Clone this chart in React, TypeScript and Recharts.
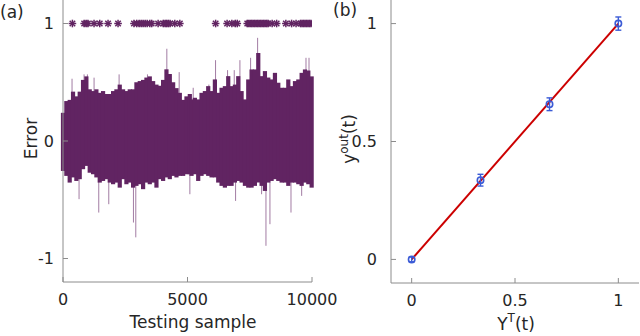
import React from 'react';
import { ComposedChart, Scatter, ErrorBar, XAxis, YAxis, Line } from 'recharts';

// ---------- Panel (a) data ----------
const sampleX = [
  0, 135, 269, 403, 537, 671, 805, 939, 1073, 1207, 1341, 1475, 1609, 1743, 1877, 2011, 2145, 2279, 2413, 2547,
  2681, 2815, 2949, 3083, 3217, 3351, 3485, 3619, 3753, 3887, 4021, 4155, 4289, 4423, 4557, 4691, 4825, 4959, 5093,
  5162, 5296, 5430, 5564, 5698, 5832, 5966, 6100, 6234, 6368, 6502, 6636, 6770, 6904, 7038, 7172, 7306, 7440, 7574,
  7708, 7842, 7976, 8110, 8244, 8378, 8512, 8646, 8780, 8914, 9048, 9182, 9316, 9450, 9584, 9718, 9852, 9986,
];
const errorHigh = [
  0.24, 0.34, 0.35, 0.42, 0.38, 0.42, 0.52, 0.55, 0.44, 0.425, 0.44, 0.41, 0.425, 0.40, 0.40, 0.425, 0.44, 0.48, 0.44, 0.425,
  0.44, 0.44, 0.50, 0.51, 0.52, 0.54, 0.55, 0.51, 0.48, 0.47, 0.52, 0.61, 0.57, 0.50, 0.45, 0.41, 0.35, 0.38, 0.40,
  0.354, 0.368, 0.354, 0.41, 0.425, 0.467, 0.425, 0.524, 0.41, 0.453, 0.467, 0.552, 0.467, 0.48, 0.552, 0.425, 0.354, 0.524, 0.609,
  0.609, 0.75, 0.552, 0.595, 0.54, 0.524, 0.58, 0.496, 0.453, 0.453, 0.524, 0.467, 0.51, 0.524, 0.58, 0.609, 0.60, 0.55,
];
const errorLow = [
  -0.255, -0.297, -0.354, -0.31, -0.34, -0.325, -0.24, -0.212, -0.27, -0.283, -0.31, -0.354, -0.34, -0.325, -0.354, -0.368, -0.354, -0.397, -0.325, -0.368,
  -0.354, -0.397, -0.382, -0.368, -0.41, -0.354, -0.368, -0.354, -0.397, -0.325, -0.34, -0.31, -0.325, -0.297, -0.31, -0.297, -0.297, -0.283, -0.283,
  -0.297, -0.283, -0.34, -0.297, -0.283, -0.297, -0.31, -0.31, -0.354, -0.382, -0.397, -0.382, -0.382, -0.354, -0.34, -0.354, -0.382, -0.397, -0.397,
  -0.382, -0.354, -0.382, -0.425, -0.354, -0.34, -0.325, -0.34, -0.354, -0.354, -0.382, -0.354, -0.354, -0.368, -0.382, -0.354, -0.368, -0.397,
];
const spikeX = [363, 846, 980, 1248, 2253, 3392, 4170, 4666, 5229, 5859, 6127, 6609, 6877, 7105, 7534, 7816, 9759, 9880,
  645, 1436, 1838, 2829, 2923, 5095, 6931, 7976, 8151, 8311, 9156, 9585];
const spikeValue = [0.53, 0.567, 0.567, 0.539, 0.567, 0.567, 0.785, 0.586, 0.453, 0.48, 0.688, 0.603, 0.603, 0.688, 0.708, 0.878, 0.708, 0.708,
  -0.495, -0.609, -0.538, -0.694, -0.82, -0.453, -0.51, -0.453, -0.892, -0.708, -0.609, -0.467];
const flaggedX = [378, 850, 930, 1000, 1247, 1476, 1809, 2211, 2850, 2960, 3060, 3140, 3217, 3300, 3380, 3486, 3560, 3820,
  4030, 4100, 4158, 4230, 4300, 4490, 4692, 6130, 6590, 6780, 6920, 7000, 7400, 7460, 7520, 7580, 7640, 7700, 7760, 7820,
  7880, 7940, 8000, 8060, 8120, 8180, 8240, 8400, 8580, 8950, 9180, 9360, 9540, 9600, 9660, 9720, 9780, 9840, 9900, 9960];
const flaggedLevel = 1;
const edgeMarkerX = [0, 10000];
const edgeMarkerLevel = 0;
const aTicksX = [0, 5000, 10000];
const aTicksY = [-1, 0, 1];

// ---------- Panel (b) data ----------
const targetY = [0, 0.333, 0.667, 1];
const outputY = [0, 0.336, 0.658, 1.0];
const outputErr = [0.01, 0.025, 0.027, 0.028];
const fitX = [0, 1];
const fitY = [0, 1];
const bTicks = [0, 0.5, 1];

// ---------- tables built from arrays ----------
const envRows = sampleX.map((x, i) => ({ x, y: errorHigh[i], err: [errorHigh[i] - errorLow[i], 0] }));
const spikeRows = spikeX.map((x, i) => ({ x, y: spikeValue[i], err: spikeValue[i] > 0 ? [spikeValue[i], 0] : [0, -spikeValue[i]] }));
const flagRows = flaggedX.map((x) => ({ x, y: flaggedLevel }));
const edgeRows = edgeMarkerX.map((x) => ({ x, y: edgeMarkerLevel }));
const ptRows = targetY.map((x, i) => ({ x, y: outputY[i], err: outputErr[i] }));
const fitRows = fitX.map((x, i) => ({ x, y: fitY[i] }));

const PURPLE = '#612462';
const SPIKE = '#a27ca3';
const AXIS = '#8c8c8c';
const TEXT = '#262626';
const BLUE = '#3b5bd6';
const RED = '#cc0000';
const FONT = '"DejaVu Sans", sans-serif';
const tickStyle = { fill: TEXT, fontSize: 16, fontFamily: FONT };

const Empty = () => <g />;

const Asterisk = (props: any) => {
  const { cx, cy } = props;
  if (cx == null || cy == null) return <g />;
  const r = 3.8;
  const d = r * 0.72;
  return (
    <g stroke={PURPLE} strokeWidth={1.5} fill="none">
      <line x1={cx - r} y1={cy} x2={cx + r} y2={cy} />
      <line x1={cx} y1={cy - r} x2={cx} y2={cy + r} />
      <line x1={cx - d} y1={cy - d} x2={cx + d} y2={cy + d} />
      <line x1={cx - d} y1={cy + d} x2={cx + d} y2={cy - d} />
    </g>
  );
};

const OpenCircle = (props: any) => {
  const { cx, cy } = props;
  if (cx == null || cy == null) return <g />;
  return <circle cx={cx} cy={cy} r={3.2} fill="none" stroke={BLUE} strokeWidth={1.6} />;
};

const blank = () => '';

function PanelAAxes({ show }: { show: boolean }) {
  const vis = show
    ? { stroke: AXIS }
    : { axisLine: false, tickLine: false, tick: false as any };
  return null;
}

function panelAChildren(show: boolean) {
  const common = show ? { stroke: AXIS } : { axisLine: false, tickLine: false };
  return [
    <XAxis key="xb" xAxisId="b" type="number" dataKey="x" domain={[0, 10000]} ticks={aTicksX} interval={0} allowDataOverflow
      orientation="bottom" height={30} tickSize={-5} tickMargin={17} tick={show ? tickStyle : false} {...common} />,
    <XAxis key="xt" xAxisId="t" type="number" dataKey="x" domain={[0, 10000]} ticks={aTicksX} interval={0} allowDataOverflow
      orientation="top" height={0} tickSize={-5} tickFormatter={blank} tick={show ? tickStyle : false} {...common} />,
    <YAxis key="yl" yAxisId="l" type="number" dataKey="y" domain={[-1.2, 1.2]} ticks={aTicksY} interval={0} allowDataOverflow
      width={60} tickSize={-5} tickMargin={14} tick={show ? tickStyle : false} {...common} />,
    <YAxis key="yr" yAxisId="r" type="number" dataKey="y" domain={[-1.2, 1.2]} ticks={aTicksY} interval={0} allowDataOverflow
      orientation="right" width={0} tickSize={-5} tickFormatter={blank} tick={show ? tickStyle : false} {...common} />,
  ];
}

const marginA = { top: 0, right: 38, bottom: 24, left: 3 };

export default function App() {
  return (
    <div style={{ position: 'absolute', left: 0, top: 0, width: 640, height: 336, background: '#fff', overflow: 'hidden' }}>
      {/* panel (a), lower layer: light spikes and edge markers */}
      <div style={{ position: 'absolute', left: 0, top: 0 }}>
        <ComposedChart width={350} height={336} margin={marginA}>
          {panelAChildren(false)}
          <Scatter xAxisId="b" yAxisId="l" data={spikeRows} shape={Empty} isAnimationActive={false}>
            <ErrorBar dataKey="err" direction="y" width={0} stroke={SPIKE} strokeWidth={1} isAnimationActive={false} />
          </Scatter>
          <Scatter xAxisId="b" yAxisId="l" data={edgeRows} shape={Asterisk} isAnimationActive={false} />
        </ComposedChart>
      </div>
      {/* panel (a), upper layer: dense error envelope, flagged markers and axes */}
      <div style={{ position: 'absolute', left: 0, top: 0 }}>
        <ComposedChart width={350} height={336} margin={marginA}>
          {panelAChildren(true)}
          <Scatter xAxisId="b" yAxisId="l" data={envRows} shape={Empty} isAnimationActive={false}>
            <ErrorBar dataKey="err" direction="y" width={0} stroke={PURPLE} strokeWidth={4.2} isAnimationActive={false} />
          </Scatter>
          <Scatter xAxisId="b" yAxisId="l" data={flagRows} shape={Asterisk} isAnimationActive={false} />
        </ComposedChart>
      </div>
      <div style={{ position: 'absolute', left: 330, top: 0 }}>
        <ComposedChart width={310} height={336} margin={{ top: 0, right: 1, bottom: 23, left: 1 }}>
          <XAxis xAxisId="b" type="number" dataKey="x" domain={[-0.1, 1.1]} ticks={bTicks} interval={0} allowDataOverflow
            orientation="bottom" height={30} stroke={AXIS} tickSize={-5} tickMargin={17} tick={tickStyle} />
          <XAxis xAxisId="t" type="number" dataKey="x" domain={[-0.1, 1.1]} ticks={bTicks} interval={0} allowDataOverflow
            orientation="top" height={0} stroke={AXIS} tickSize={-5} tickFormatter={blank} />
          <YAxis yAxisId="l" type="number" dataKey="y" domain={[-0.1, 1.1]} ticks={bTicks} interval={0} allowDataOverflow
            width={60} stroke={AXIS} tickSize={-5} tickMargin={19} tick={tickStyle} />
          <YAxis yAxisId="r" type="number" dataKey="y" domain={[-0.1, 1.1]} ticks={bTicks} interval={0} allowDataOverflow
            orientation="right" width={0} stroke={AXIS} tickSize={-5} tickFormatter={blank} />
          <Line xAxisId="b" yAxisId="l" data={fitRows} dataKey="y" stroke={RED} strokeWidth={2} dot={false} isAnimationActive={false} />
          <Scatter xAxisId="b" yAxisId="l" data={ptRows} shape={OpenCircle} isAnimationActive={false}>
            <ErrorBar dataKey="err" direction="y" width={3} stroke={BLUE} strokeWidth={1.4} isAnimationActive={false} />
          </Scatter>
        </ComposedChart>
      </div>
      <svg width={640} height={336} style={{ position: 'absolute', left: 0, top: 0, pointerEvents: 'none' }}
        fontFamily={FONT} fill={TEXT}>
        <text x={0} y={18} fontSize={17}>(a)</text>
        <text x={333} y={16} fontSize={17}>(b)</text>
        <text transform="translate(36.5,138.5) rotate(-90)" textAnchor="middle" fontSize={17}>Error</text>
        <text x={193} y={328} textAnchor="middle" fontSize={17}>Testing sample</text>
        <text x={516} y={330} textAnchor="middle" fontSize={17}>
          Y<tspan dy={-8} fontSize={12}>T</tspan><tspan dy={8} fontSize={17}>(t)</tspan>
        </text>
        <text transform="translate(354.5,139) rotate(-90)" textAnchor="middle" fontSize={17}>
          y<tspan dy={-7} fontSize={12}>out</tspan><tspan dy={7} fontSize={17}>(t)</tspan>
        </text>
      </svg>
    </div>
  );
}
